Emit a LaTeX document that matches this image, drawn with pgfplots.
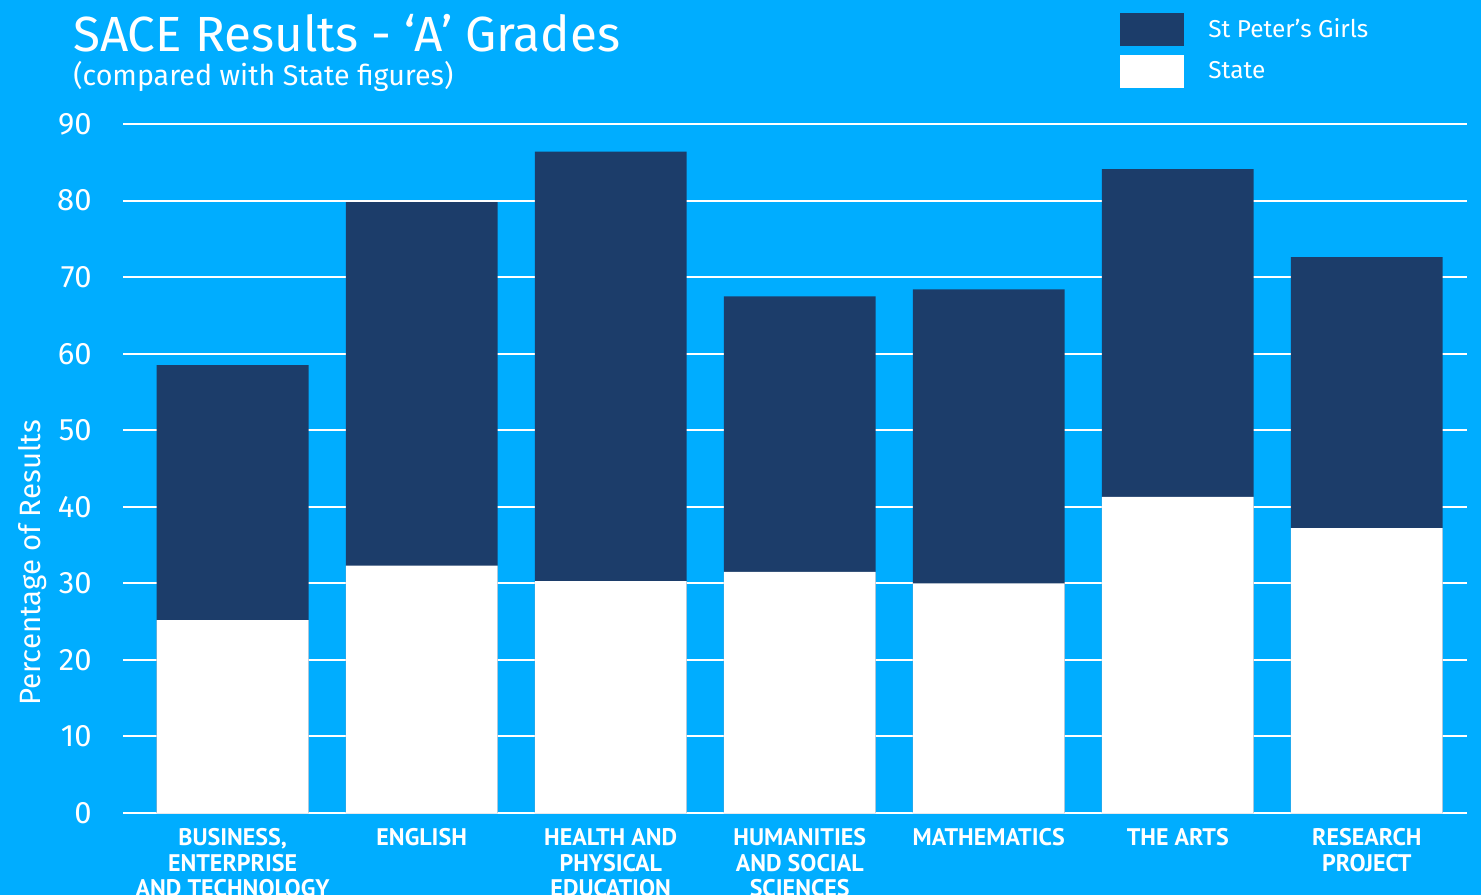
\documentclass[border=0pt]{standalone}
\usepackage{pgfplots}
\pgfplotsset{compat=1.18}
\usepackage{fontspec}
\setmainfont{Fira Sans}
\newfontfamily\ptsans{PT Sans}
\definecolor{bg}{RGB}{0,173,255}
\definecolor{dark}{RGB}{28,61,106}
\begin{document}
\begin{tikzpicture}
\useasboundingbox (0,0) rectangle (740.5pt,447.5pt);
\clip (0,0) rectangle (740.5pt,447.5pt);
\fill[bg] (0,0) rectangle (740.5pt,447.5pt);
\node[anchor=base west, inner sep=0pt, text=white, font={\fontsize{24.7}{28}\selectfont}] at (36.5pt,421.5pt) {SACE Results - ‘A’ Grades};
\node[anchor=base west, inner sep=0pt, text=white, font={\fontsize{14.3}{16}\selectfont}] at (36.5pt,404.5pt) {(compared with State figures)};
\begin{axis}[
  at={(61.5pt,41pt)}, anchor=south west,
  scale only axis, width=672pt, height=344.5pt,
  xmin=-0.58, xmax=6.53, ymin=0, ymax=90,
  axis line style={draw=none},
  major tick length=0pt,
  ytick={0,10,...,90},
  ymajorgrids, grid style={white, line width=1pt},
  xtick={0,...,6},
  xticklabels={{BUSINESS,\\ENTERPRISE\\AND TECHNOLOGY},{ENGLISH},{HEALTH AND\\PHYSICAL\\EDUCATION},{HUMANITIES\\AND SOCIAL\\SCIENCES},{MATHEMATICS},{THE ARTS},{RESEARCH\\PROJECT}},
  xticklabel style={align=center, anchor=north, inner sep=0pt, yshift=-7.5pt, text=white, font={\ptsans\fontsize{12}{12.8}\selectfont\bfseries}},
  yticklabel style={anchor=east, inner sep=0pt, xshift=-15.5pt, text=white, font={\fontsize{15.5}{17}\selectfont}},
  /pgf/number format/assume math mode=true,
  ylabel={Percentage of Results},
  ylabel style={at={(axis description cs:-0.067,0.363)}, anchor=center, text=white, font={\fontsize{14.7}{16}\selectfont}},
  legend style={at={(axis description cs:0.7418,1.1611)}, anchor=north west, draw=none, fill=none, inner sep=0pt, row sep=4.5pt, text=white, font={\fontsize{12.2}{14}\selectfont}, nodes={inner sep=0pt, anchor=west}},
  legend cell align=left,
  /tikz/every odd column/.append style={column sep=12pt},
]
\addplot[ybar, bar width=0.803, bar shift=0pt, fill=dark, draw=none,
  legend image code/.code={\fill[dark] (0pt,-8.25pt) rectangle (32pt,8.25pt);}]
  coordinates {(0,58.5) (1,79.8) (2,86.4) (3,67.5) (4,68.4) (5,84.1) (6,72.6)};
\addlegendentry{St Peter’s Girls}
\addplot[ybar, bar width=0.803, bar shift=0pt, fill=white, draw=none,
  legend image code/.code={\fill[white] (0pt,-8.25pt) rectangle (32pt,8.25pt);}]
  coordinates {(0,25.2) (1,32.3) (2,30.3) (3,31.5) (4,30.0) (5,41.3) (6,37.2)};
\addlegendentry{State}
\end{axis}
\end{tikzpicture}
\end{document}
